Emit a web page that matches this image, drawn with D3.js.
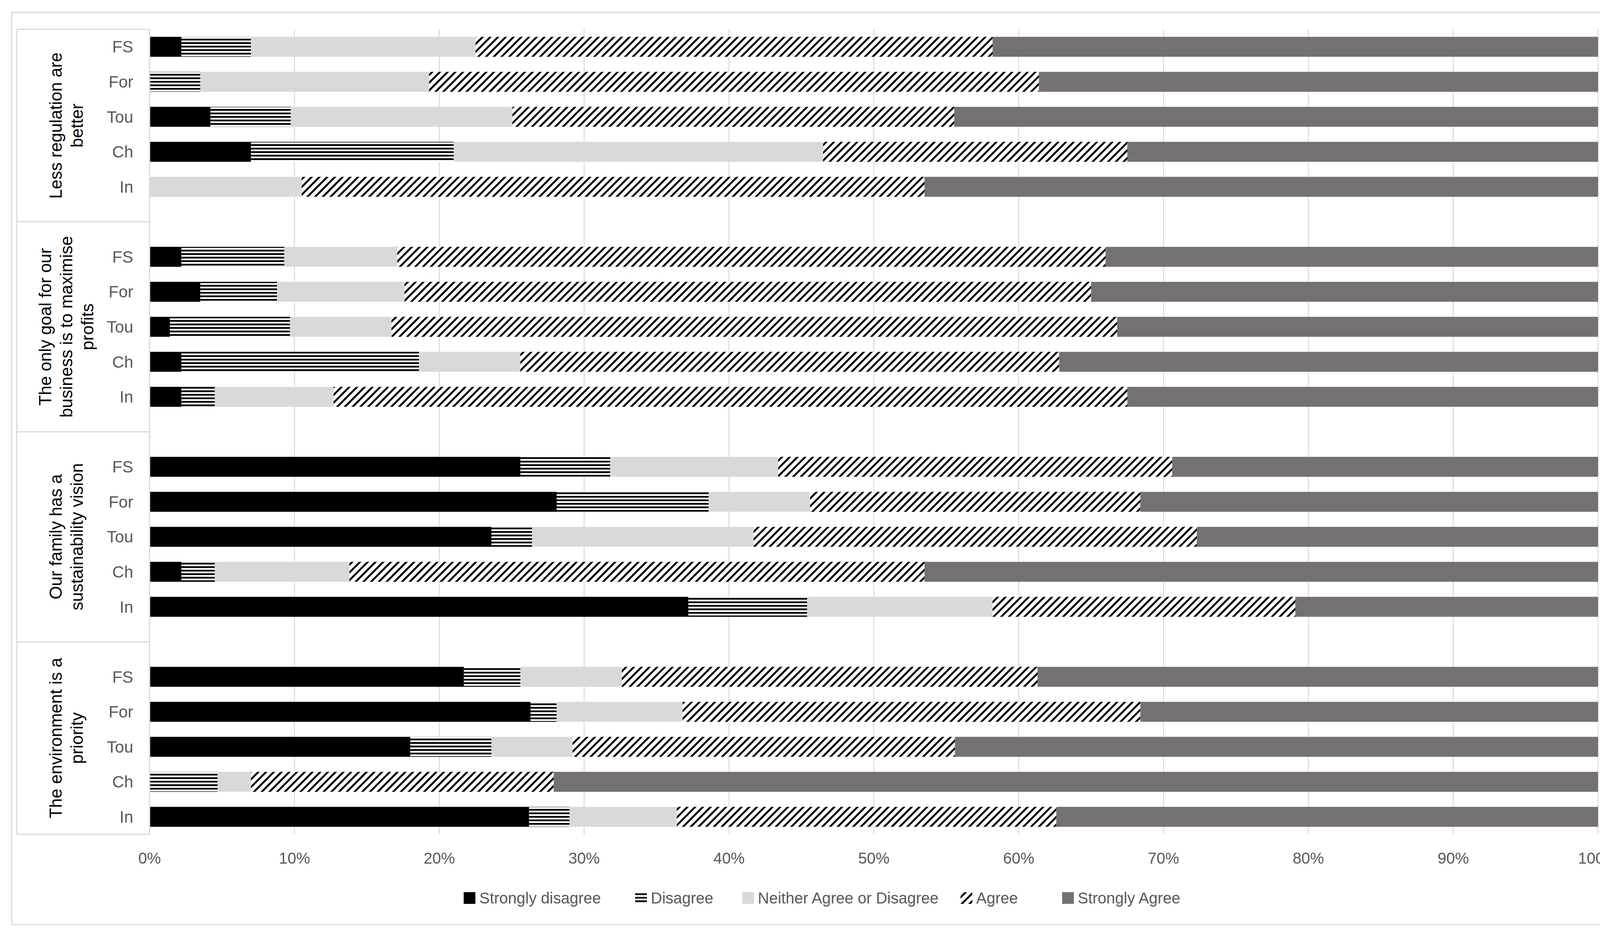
<!DOCTYPE html><html><head><meta charset="utf-8">
<script src="https://cdn.jsdelivr.net/npm/d3@7"></script>
<style>body{margin:0;background:#fff}</style></head><body>
<svg id="c" width="4200" height="2408"></svg>
<script>
const groups=["Less regulation are better","The only goal for our business is to maximise profits","Our family has a sustainability vision","The environment is a priority"];
const groupLines=[["Less regulation are","better"],["The only goal for our","business is to maximise","profits"],["Our family has a","sustainability vision"],["The environment is a","priority"]];
const sectors=["FS","For","Tou","Ch","In"];
const series=["Strongly disagree","Disagree","Neither Agree or Disagree","Agree","Strongly Agree"];
// percentages per group, per sector (FS,For,Tou,Ch,In), order SD,D,N,A,SA
const vals=[
 [[2.2,4.8,15.5,35.7,41.8],[0,3.5,15.8,42.1,38.6],[4.2,5.55,15.3,30.5,44.45],[7.0,14.0,25.5,21.0,32.5],[0,0,10.5,43.0,46.5]],
 [[2.2,7.1,7.8,48.9,34.0],[3.5,5.3,8.8,47.4,35.0],[1.4,8.3,7.0,50.1,33.2],[2.2,16.4,7.0,37.2,37.2],[2.2,2.3,8.2,54.8,32.5]],
 [[25.6,6.2,11.6,27.2,29.4],[28.1,10.5,7.0,22.8,31.6],[23.6,2.8,15.3,30.6,27.7],[2.2,2.3,9.3,39.7,46.5],[37.2,8.2,12.8,20.9,20.9]],
 [[21.7,3.9,7.0,28.7,38.7],[26.3,1.8,8.7,31.6,31.6],[18.0,5.6,5.6,26.4,44.4],[0,4.7,2.3,20.9,72.1],[26.2,2.8,7.4,26.2,37.4]]
];
const ticks=[0,10,20,30,40,50,60,70,80,90,100];
const svg=d3.select("#c");
const defs=svg.append("defs");
const ph=defs.append("pattern").attr("id","pH").attr("patternUnits","userSpaceOnUse").attr("width",10).attr("height",9);
ph.append("rect").attr("width",10).attr("height",9).attr("fill","#fff");
ph.append("rect").attr("width",10).attr("height",4.5).attr("fill","#000");
const pd=defs.append("pattern").attr("id","pD").attr("patternUnits","userSpaceOnUse").attr("width",14).attr("height",14).attr("patternTransform","rotate(45)");
pd.append("rect").attr("width",14).attr("height",14).attr("fill","#fff");
pd.append("rect").attr("width",5).attr("height",14).attr("fill","#000");
const fills=["#000","url(#pH)","#d9d9d9","url(#pD)","#767171"];
const font="'Liberation Sans', Arial, sans-serif";
svg.append("rect").attr("x",30).attr("y",32).attr("width",4150).attr("height",2334).attr("fill","#fff").attr("stroke","#d9d9d9").attr("stroke-width",3);
const L=383,R=4091,T=75,B=2135;
const x=d3.scaleLinear().domain([0,100]).range([L,R]);
// row keys: groups with blank rows between
const rows=[];
groups.forEach((g,gi)=>{ if(gi>0) rows.push("blank"+gi); sectors.forEach(s=>rows.push(gi+"|"+s));});
const y=d3.scaleBand().domain(rows).range([T,B]).paddingInner(0.43).paddingOuter(0.215);
// gridlines
svg.append("g").selectAll("line").data(ticks.slice(1)).join("line").attr("x1",d=>x(d)).attr("x2",d=>x(d)).attr("y1",T).attr("y2",B).attr("stroke","#d9d9d9").attr("stroke-width",2.5);
// bars
groups.forEach((g,gi)=>sectors.forEach((s,si)=>{
  let c=0; const v=vals[gi][si];
  v.forEach((d,k)=>{ if(d>0) svg.append("rect").attr("x",x(c)).attr("width",x(c+d)-x(c)).attr("y",y(gi+"|"+s)).attr("height",y.bandwidth()).attr("fill",fills[k]); c+=d;});
  svg.append("text").attr("x",L-42).attr("y",y(gi+"|"+s)+y.bandwidth()/2).attr("dy","0.35em").attr("text-anchor","end").attr("font-family",font).attr("font-size",42).attr("fill","#595959").text(s);
}));
// axis line & group separators
svg.append("line").attr("x1",L).attr("x2",L).attr("y1",T).attr("y2",B).attr("stroke","#d9d9d9").attr("stroke-width",3);
const step=(B-T)/23;
const seps=[T,T+step*5.5,T+step*11.5,T+step*17.5,B];
seps.forEach(s=>svg.append("line").attr("x1",43).attr("x2",L).attr("y1",s).attr("y2",s).attr("stroke","#d9d9d9").attr("stroke-width",3));
svg.append("line").attr("x1",43).attr("x2",43).attr("y1",T).attr("y2",B).attr("stroke","#d9d9d9").attr("stroke-width",3);
groupLines.forEach((ls,gi)=>{
  const cy=(seps[gi]+seps[gi+1])/2, cx=170;
  const t=svg.append("text").attr("transform",`translate(${cx},${cy}) rotate(-90)`).attr("text-anchor","middle").attr("font-family",font).attr("font-size",44).attr("fill","#000");
  ls.forEach((l,i)=>t.append("tspan").attr("x",0).attr("y",(i-(ls.length-1)/2)*54+15).text(l));
});
// x axis
svg.append("g").selectAll("text").data(ticks).join("text").attr("x",d=>x(d)).attr("y",B+75).attr("text-anchor","middle").attr("font-family",font).attr("font-size",40).attr("fill","#595959").text(d=>d+"%");
// legend
const lx=[1187,1626,1900,2459,2719];
series.forEach((s,i)=>{
  svg.append("rect").attr("x",lx[i]).attr("y",2283).attr("width",30).attr("height",30).attr("fill",fills[i]);
  svg.append("text").attr("x",lx[i]+40).attr("y",2298).attr("dy","0.35em").attr("font-family",font).attr("font-size",40).attr("fill","#595959").text(s);
});
</script></body></html>
